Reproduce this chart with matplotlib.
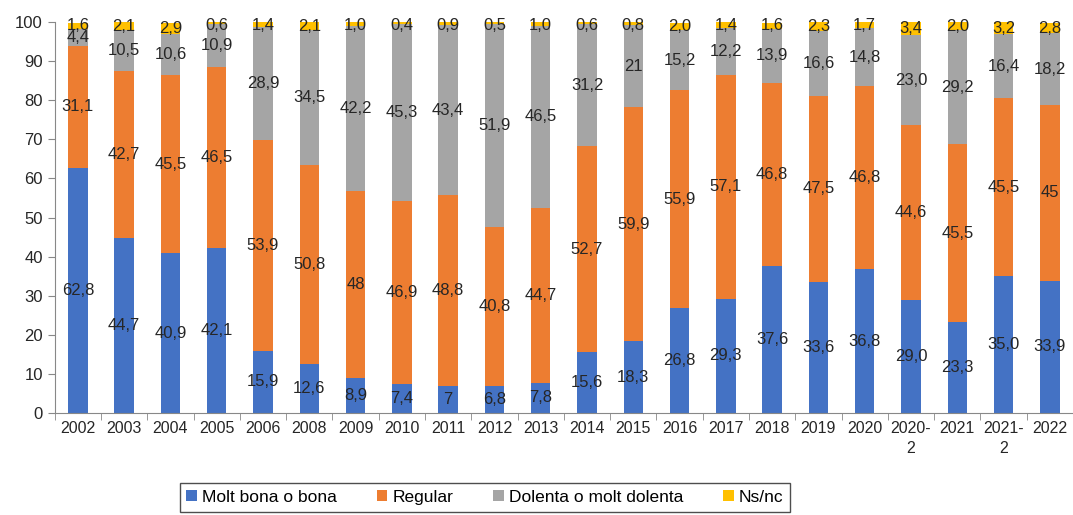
import numpy as np
from matplotlib import pyplot as plt

plt.rcParams['font.family'] = ['Liberation Sans', 'DejaVu Sans']

years = ["2002", "2003", "2004", "2005", "2006", "2008", "2009", "2010",
         "2011", "2012", "2013", "2014", "2015", "2016", "2017", "2018",
         "2019", "2020", "2020-\n2", "2021", "2021-\n2", "2022"]

bona = [62.8, 44.7, 40.9, 42.1, 15.9, 12.6, 8.9, 7.4, 7.0, 6.8, 7.8, 15.6,
        18.3, 26.8, 29.3, 37.6, 33.6, 36.8, 29.0, 23.3, 35.0, 33.9]
regular = [31.1, 42.7, 45.5, 46.5, 53.9, 50.8, 48.0, 46.9, 48.8, 40.8, 44.7,
           52.7, 59.9, 55.9, 57.1, 46.8, 47.5, 46.8, 44.6, 45.5, 45.5, 45.0]
dolenta = [4.4, 10.5, 10.6, 10.9, 28.9, 34.5, 42.2, 45.3, 43.4, 51.9, 46.5,
           31.2, 21.0, 15.2, 12.2, 13.9, 16.6, 14.8, 23.0, 29.2, 16.4, 18.2]
nsnc = [1.6, 2.1, 2.9, 0.6, 1.4, 2.1, 1.0, 0.4, 0.9, 0.5, 1.0, 0.6, 0.8,
        2.0, 1.4, 1.6, 2.3, 1.7, 3.4, 2.0, 3.2, 2.8]

# labels as printed on the chart
bona_lab = ["62,8", "44,7", "40,9", "42,1", "15,9", "12,6", "8,9", "7,4", "7",
            "6,8", "7,8", "15,6", "18,3", "26,8", "29,3", "37,6", "33,6",
            "36,8", "29,0", "23,3", "35,0", "33,9"]
regular_lab = ["31,1", "42,7", "45,5", "46,5", "53,9", "50,8", "48", "46,9",
               "48,8", "40,8", "44,7", "52,7", "59,9", "55,9", "57,1", "46,8",
               "47,5", "46,8", "44,6", "45,5", "45,5", "45"]
dolenta_lab = ["4,4", "10,5", "10,6", "10,9", "28,9", "34,5", "42,2", "45,3",
               "43,4", "51,9", "46,5", "31,2", "21", "15,2", "12,2", "13,9",
               "16,6", "14,8", "23,0", "29,2", "16,4", "18,2"]
nsnc_lab = ["1,6", "2,1", "2,9", "0,6", "1,4", "2,1", "1,0", "0,4", "0,9",
            "0,5", "1,0", "0,6", "0,8", "2,0", "1,4", "1,6", "2,3", "1,7",
            "3,4", "2,0", "3,2", "2,8"]

series = [
    ("Molt bona o bona", bona, bona_lab, "#4472C4"),
    ("Regular", regular, regular_lab, "#ED7D31"),
    ("Dolenta o molt dolenta", dolenta, dolenta_lab, "#A5A5A5"),
    ("Ns/nc", nsnc, nsnc_lab, "#FFC000"),
]

fig = plt.figure(figsize=(10.73, 5.15), dpi=100)
ax = fig.add_axes([0.051, 0.198, 0.949, 0.759])

x = np.arange(len(years))
bottom = np.zeros(len(years))
for name, vals, labs, col in series:
    vals = np.array(vals)
    ax.bar(x, vals, 0.42, bottom=bottom, color=col, label=name)
    for xi, b, v, t in zip(x, bottom, vals, labs):
        yc = b + v / 2
        if name == "Ns/nc":
            yc = min(yc, 99.2)
        ax.text(xi, yc, t, ha="center", va="center", fontsize=12,
                color="#262626")
    bottom = bottom + vals

ax.set_xlim(-0.5, len(years) - 0.5)
ax.set_ylim(0, 100)
ax.set_yticks(np.arange(0, 101, 10))
ax.set_xticks(x)
ax.set_xticklabels(years, fontsize=11.5, color="#262626", linespacing=1.4)
ax.set_xticks(np.arange(-0.5, len(years), 1), minor=True)
ax.tick_params(axis="x", which="major", length=0, pad=6)
ax.tick_params(axis="x", which="minor", length=5, color="#888888")
ax.tick_params(axis="y", labelsize=12, labelcolor="#262626", length=5,
               color="#888888")
for s in ["top", "right"]:
    ax.spines[s].set_visible(False)
ax.spines["left"].set_color("#888888")
ax.spines["bottom"].set_color("#888888")

leg = fig.legend(loc="center", bbox_to_anchor=(0.452, 0.034), ncol=4,
                 fontsize=12.5, frameon=True, fancybox=False,
                 handlelength=0.6, handleheight=0.6, handletextpad=0.3,
                 columnspacing=2.3, borderpad=0.4, borderaxespad=0)
leg.get_frame().set_edgecolor("#222222")
leg.get_frame().set_linewidth(1.0)

fig.savefig("out.png", dpi=100)
